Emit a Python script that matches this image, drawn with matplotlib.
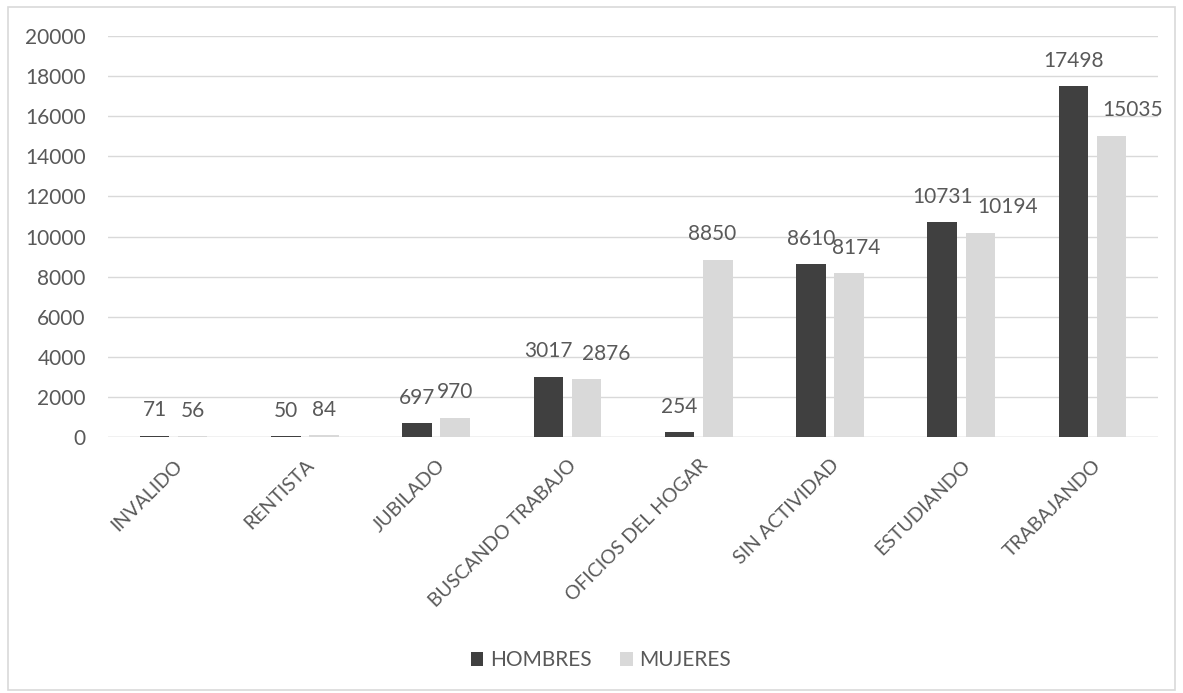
import matplotlib.pyplot as plt
from matplotlib.patches import Rectangle
import numpy as np

categorias = ["INVALIDO", "RENTISTA", "JUBILADO", "BUSCANDO TRABAJO",
              "OFICIOS DEL HOGAR", "SIN ACTIVIDAD", "ESTUDIANDO", "TRABAJANDO"]
hombres = [71, 50, 697, 3017, 254, 8610, 10731, 17498]
mujeres = [56, 84, 970, 2876, 8850, 8174, 10194, 15035]
yticks = [0, 2000, 4000, 6000, 8000, 10000, 12000, 14000, 16000, 18000, 20000]

# Excel nudged some MUJERES labels sideways (points)
nudge_muj = [0, 0, 0, 14, -4, 5, 20, 15]

plt.rcParams['font.family'] = ['Lato', 'DejaVu Sans']
gris = '#595959'

fig = plt.figure(figsize=(11.83, 6.93), dpi=100)
ax = fig.add_axes([0.0913, 0.3694, 0.8877, 0.5786])

x = np.arange(len(categorias))
w = 0.225
b1 = ax.bar(x - 0.145, hombres, w, color='#404040', label='HOMBRES', zorder=3)
b2 = ax.bar(x + 0.145, mujeres, w, color='#d9d9d9', label='MUJERES', zorder=3)

for r, v in zip(b1, hombres):
    ax.annotate(str(v), (r.get_x() + r.get_width() / 2, v), xytext=(0, 11),
                textcoords='offset points', ha='center', va='bottom',
                fontsize=15, color=gris)
for r, v, dx in zip(b2, mujeres, nudge_muj):
    ax.annotate(str(v), (r.get_x() + r.get_width() / 2, v), xytext=(dx, 11),
                textcoords='offset points', ha='center', va='bottom',
                fontsize=15, color=gris)

ax.set_xlim(-0.5, len(categorias) - 0.5)
ax.set_ylim(0, 20000)
ax.set_yticks(yticks)
ax.set_yticklabels([str(t) for t in yticks], fontsize=15, color=gris)
ax.set_xticks(x)
ax.set_xticklabels(categorias, rotation=45, ha='right', rotation_mode='anchor',
                   fontsize=14, color=gris)
ax.tick_params(axis='y', length=0, pad=16)
ax.tick_params(axis='x', length=0, pad=14)
ax.grid(axis='y', color='#d9d9d9', linewidth=1, zorder=0)
for s in ax.spines.values():
    s.set_visible(False)
ax.axhline(0, color='#d9d9d9', linewidth=1, zorder=2)

fig.legend(handles=[b1, b2], loc='center', bbox_to_anchor=(0.508, 0.047), ncol=2,
           frameon=False, fontsize=15, labelcolor=gris, handlelength=0.6,
           handleheight=0.6, handletextpad=0.3, columnspacing=1.4)

fig.patches.append(Rectangle((0.007, 0.005), 0.986, 0.985, transform=fig.transFigure,
                             fill=False, edgecolor='#d9d9d9', linewidth=1.2))

fig.savefig('out.png', dpi=100)
